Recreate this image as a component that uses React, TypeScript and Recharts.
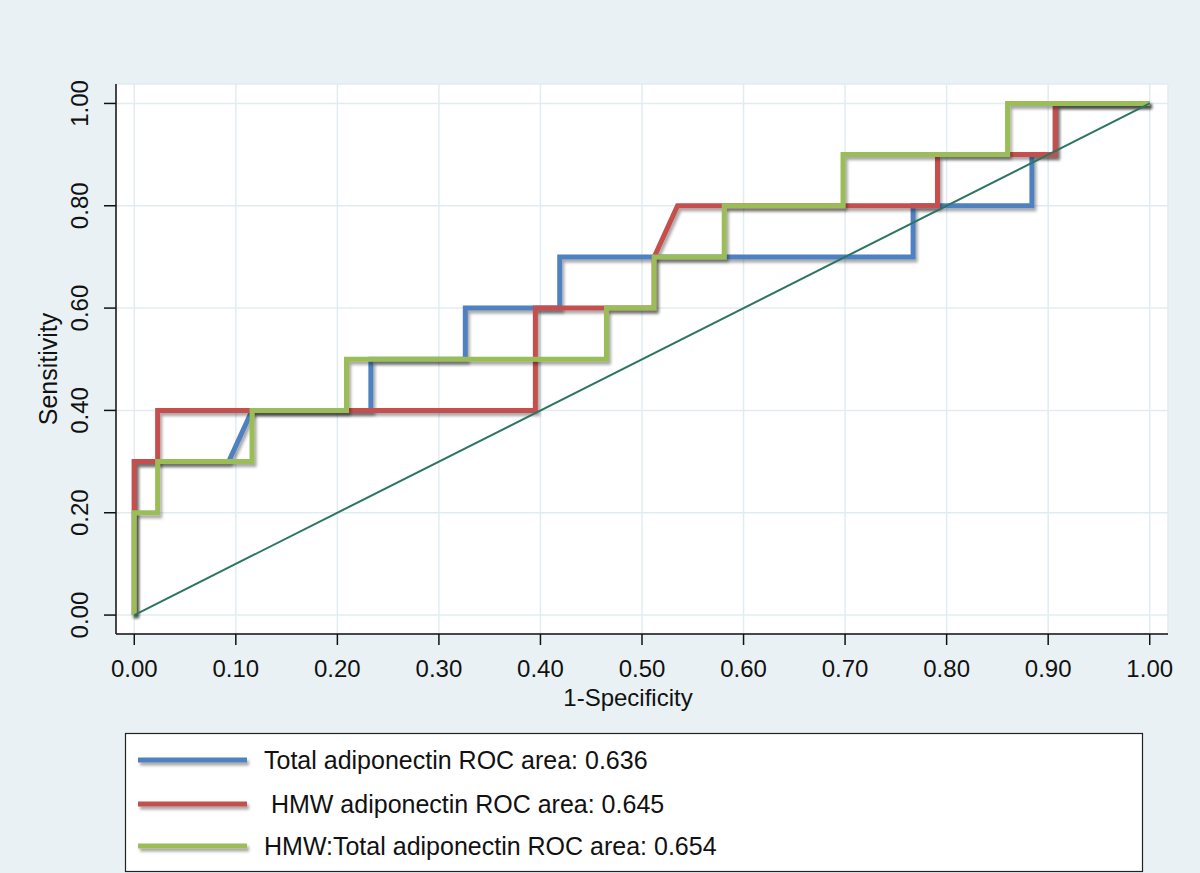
import { LineChart, Line, XAxis, YAxis, CartesianGrid } from 'recharts';

// 1-specificity / sensitivity pairs
const totalX = [0, 0, 0.093, 0.116, 0.233, 0.233, 0.326, 0.326, 0.419, 0.419, 0.767, 0.767, 0.884, 0.884, 0.907, 0.907, 1];
const totalY = [0, 0.3, 0.3, 0.4, 0.4, 0.5, 0.5, 0.6, 0.6, 0.7, 0.7, 0.8, 0.8, 0.9, 0.9, 1, 1];

const hmwX = [0, 0, 0.023, 0.023, 0.395, 0.395, 0.512, 0.512, 0.535, 0.791, 0.791, 0.907, 0.907, 1];
const hmwY = [0, 0.3, 0.3, 0.4, 0.4, 0.6, 0.6, 0.7, 0.8, 0.8, 0.9, 0.9, 1, 1];

const ratioX = [0, 0, 0.023, 0.023, 0.116, 0.116, 0.209, 0.209, 0.465, 0.465, 0.512, 0.512, 0.581, 0.581, 0.698, 0.698, 0.86, 0.86, 1];
const ratioY = [0, 0.2, 0.2, 0.3, 0.3, 0.4, 0.4, 0.5, 0.5, 0.6, 0.6, 0.7, 0.7, 0.8, 0.8, 0.9, 0.9, 1, 1];

const refX = [0, 1];
const refY = [0, 1];

const xTicks = [0, 0.1, 0.2, 0.3, 0.4, 0.5, 0.6, 0.7, 0.8, 0.9, 1];
const yTicks = [0, 0.2, 0.4, 0.6, 0.8, 1];

const seriesNames = [
  'Total adiponectin ROC area: 0.636',
  ' HMW adiponectin ROC area: 0.645',
  'HMW:Total adiponectin ROC area: 0.654',
];
const seriesColors = ['#4f80bf', '#c4504d', '#9bbd59'];

const toPoints = (xs: number[], ys: number[]) => xs.map((x, i) => ({ x, y: ys[i] }));

const series = [
  toPoints(totalX, totalY),
  toPoints(hmwX, hmwY),
  toPoints(ratioX, ratioY),
];
const refLine = toPoints(refX, refY);

const FONT = '"Liberation Sans", Arial, Helvetica, sans-serif';
const BG = '#e9f1f4';

function XTick(props: any) {
  const { x, y, payload } = props;
  return (
    <text x={x} y={y} textAnchor="middle" fontSize={24} fontFamily={FONT} fill="#111">
      {payload.value.toFixed(2)}
    </text>
  );
}

function YTick(props: any) {
  const { x, y, payload } = props;
  return (
    <text transform={`translate(${x}, ${y}) rotate(-90)`} textAnchor="middle" fontSize={24} fontFamily={FONT} fill="#111">
      {payload.value.toFixed(2)}
    </text>
  );
}

export default function App() {
  return (
    <div style={{ position: 'absolute', left: 0, top: 0, width: 1200, height: 873, background: BG, fontFamily: FONT }}>
      <style>{`.roc-shadow .recharts-curve { filter: url(#rocShadow); }`}</style>
      <LineChart width={1200} height={873} margin={{ top: 84, right: 32, bottom: 179, left: 56 }}>
        <defs>
          <filter id="rocShadow" filterUnits="userSpaceOnUse" x="0" y="0" width="1200" height="873">
            <feDropShadow dx="2" dy="3" stdDeviation="1.8" floodColor="#000" floodOpacity="0.35" />
          </filter>
        </defs>
        <CartesianGrid fill="#ffffff" stroke="#e2ecf0" strokeWidth={1.5} />
        <XAxis
          type="number"
          dataKey="x"
          domain={[-0.018, 1.018]}
          ticks={xTicks}
          allowDataOverflow
          height={60}
          tickSize={11}
          tickMargin={32}
          axisLine={{ stroke: '#111', strokeWidth: 1.5 }}
          tickLine={{ stroke: '#111', strokeWidth: 1.5 }}
          tick={<XTick />}
        />
        <YAxis
          type="number"
          dataKey="y"
          domain={[-0.037, 1.038]}
          ticks={yTicks}
          allowDataOverflow
          width={60}
          tickSize={12}
          tickMargin={16}
          axisLine={{ stroke: '#111', strokeWidth: 1.5 }}
          tickLine={{ stroke: '#111', strokeWidth: 1.5 }}
          tick={<YTick />}
        />
        {series.map((pts, i) => (
          <Line
            key={i}
            className="roc-shadow"
            data={pts}
            dataKey="y"
            type="linear"
            stroke={seriesColors[i]}
            strokeWidth={5}
            dot={false}
            activeDot={false}
            isAnimationActive={false}
          />
        ))}
        <Line data={refLine} dataKey="y" type="linear" stroke="#2b7562" strokeWidth={2} dot={false} activeDot={false} isAnimationActive={false} />
      </LineChart>

      {/* axis titles and legend */}
      <div style={{ position: 'absolute', left: 0, top: 0, width: 1200, height: 873, pointerEvents: 'none' }}>
        <svg width={1200} height={873}>
          <defs>
            <filter id="legendShadow" filterUnits="userSpaceOnUse" x="0" y="0" width="1200" height="873">
              <feDropShadow dx="2" dy="3" stdDeviation="1.8" floodColor="#000" floodOpacity="0.35" />
            </filter>
          </defs>
          <text x={628} y={706} textAnchor="middle" fontSize={24} fontFamily={FONT} fill="#111">1-Specificity</text>
          <text transform="translate(57, 369) rotate(-90)" textAnchor="middle" fontSize={25} fontFamily={FONT} fill="#111">Sensitivity</text>

          <rect x={125.5} y={733.5} width={1017} height={138} fill="#fff" stroke="#222" strokeWidth={1.2} />
          {seriesNames.map((name, i) => {
            const ly = [760, 804, 846][i];
            return (
              <g key={name}>
                <line x1={138} x2={247} y1={ly} y2={ly} stroke={seriesColors[i]} strokeWidth={5} filter="url(#legendShadow)" />
                <text x={264} y={ly + 9} fontSize={25} fontFamily={FONT} fill="#111" style={{ whiteSpace: 'pre' }}>{name}</text>
              </g>
            );
          })}
        </svg>
      </div>
    </div>
  );
}
